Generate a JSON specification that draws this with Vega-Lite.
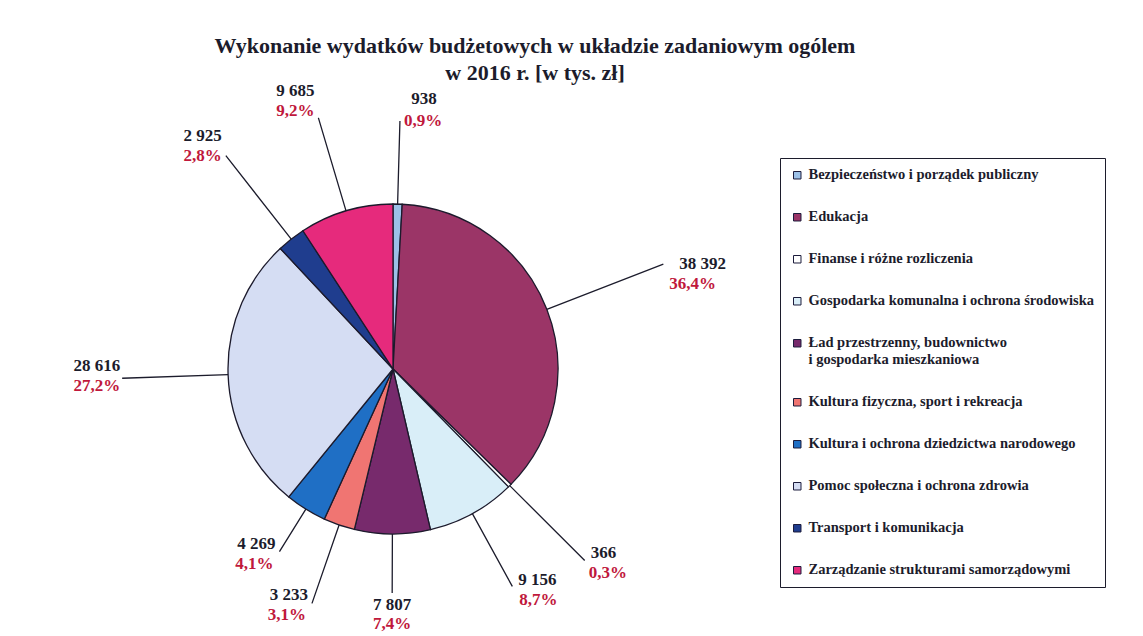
{
  "$schema": "https://vega.github.io/schema/vega-lite/v6.json",
  "autosize": {"type": "none"},
  "padding": {"left": 10, "top": 109, "right": 367, "bottom": 7},
  "width": 766,
  "height": 520,
  "background": "#ffffff",
  "title": {
    "text": "Wykonanie wydatków budżetowych w układzie zadaniowym ogólem",
    "subtitle": "w 2016 r. [w tys. zł]",
    "anchor": "middle",
    "frame": "group",
    "dx": 142,
    "offset": -16,
    "font": "Liberation Serif",
    "fontSize": 22,
    "fontWeight": "bold",
    "color": "#1c1c2c",
    "subtitleFont": "Liberation Serif",
    "subtitleFontSize": 22,
    "subtitleFontWeight": "bold",
    "subtitleColor": "#1c1c2c",
    "subtitlePadding": 5
  },
  "data": {
    "values": [
      {"lp": 1, "kategoria": "Bezpieczeństwo i porządek publiczny", "wartosc": 938, "udzial": 0.009},
      {"lp": 2, "kategoria": "Edukacja", "wartosc": 38392, "udzial": 0.364},
      {"lp": 3, "kategoria": "Finanse i różne rozliczenia", "wartosc": 366, "udzial": 0.003},
      {"lp": 4, "kategoria": "Gospodarka komunalna i ochrona środowiska", "wartosc": 9156, "udzial": 0.087},
      {"lp": 5, "kategoria": "Ład przestrzenny, budownictwo i gospodarka mieszkaniowa", "wartosc": 7807, "udzial": 0.074},
      {"lp": 6, "kategoria": "Kultura fizyczna, sport i rekreacja", "wartosc": 3233, "udzial": 0.031},
      {"lp": 7, "kategoria": "Kultura i ochrona dziedzictwa narodowego", "wartosc": 4269, "udzial": 0.041},
      {"lp": 8, "kategoria": "Pomoc społeczna i ochrona zdrowia", "wartosc": 28616, "udzial": 0.272},
      {"lp": 9, "kategoria": "Transport i komunikacja", "wartosc": 2925, "udzial": 0.028},
      {"lp": 10, "kategoria": "Zarządzanie strukturami samorządowymi", "wartosc": 9685, "udzial": 0.092}
    ]
  },
  "encoding": {
    "theta": {"field": "wartosc", "type": "quantitative", "stack": true},
    "order": {"field": "lp", "type": "quantitative"}
  },
  "layer": [
    {
      "mark": {"type": "arc", "radius": 165, "stroke": "#1c1a2c", "strokeWidth": 1.3},
      "encoding": {
        "color": {
          "field": "kategoria",
          "type": "nominal",
          "scale": {
            "domain": [
              "Bezpieczeństwo i porządek publiczny",
              "Edukacja",
              "Finanse i różne rozliczenia",
              "Gospodarka komunalna i ochrona środowiska",
              "Ład przestrzenny, budownictwo i gospodarka mieszkaniowa",
              "Kultura fizyczna, sport i rekreacja",
              "Kultura i ochrona dziedzictwa narodowego",
              "Pomoc społeczna i ochrona zdrowia",
              "Transport i komunikacja",
              "Zarządzanie strukturami samorządowymi"
            ],
            "range": ["#9cc1e8", "#9b3567", "#ffffff", "#d9eef8", "#772a6c", "#f07572", "#1f6fc5", "#d5ddf3", "#1f3d8e", "#e62a7c"]
          },
          "legend": {
            "orient": "none",
            "legendX": 770,
            "legendY": 49,
            "title": null,
            "direction": "vertical",
            "strokeColor": "#1c1c2c",
            "fillColor": "#ffffff",
            "padding": 10,
            "rowPadding": 27,
            "symbolType": "square",
            "symbolSize": 56,
            "symbolStrokeColor": "#1c1c3c",
            "symbolStrokeWidth": 1,
            "labelFont": "Liberation Serif",
            "labelFontWeight": "bold",
            "labelFontSize": 14.5,
            "labelColor": "#1c1c2c",
            "labelOffset": 4,
            "labelLimit": 400,
            "labelExpr": "indexof(datum.label, 'budownictwo') >= 0 ? ['Ład przestrzenny, budownictwo', 'i gospodarka mieszkaniowa'] : datum.label"
          }
        }
      }
    },
    {
      "mark": {"type": "arc", "radius": 248, "radius2": 165, "padAngle": 3.1416, "filled": false, "stroke": "#1c1c2c", "strokeWidth": 1.3},
      "encoding": {"opacity": {"condition": {"test": "indexof([1, 4, 6], datum.lp) >= 0", "value": 1}, "value": 0}}
    },
    {
      "mark": {"type": "arc", "radius": 290, "radius2": 165, "padAngle": 3.1416, "filled": false, "stroke": "#1c1c2c", "strokeWidth": 1.3},
      "encoding": {"opacity": {"condition": {"test": "datum.lp === 2", "value": 1}, "value": 0}}
    },
    {
      "mark": {"type": "arc", "radius": 271, "radius2": 165, "padAngle": 3.1416, "filled": false, "stroke": "#1c1c2c", "strokeWidth": 1.3},
      "encoding": {"opacity": {"condition": {"test": "indexof([3, 8, 9], datum.lp) >= 0", "value": 1}, "value": 0}}
    },
    {
      "mark": {"type": "arc", "radius": 224, "radius2": 165, "padAngle": 3.1416, "filled": false, "stroke": "#1c1c2c", "strokeWidth": 1.3},
      "encoding": {"opacity": {"condition": {"test": "datum.lp === 5", "value": 1}, "value": 0}}
    },
    {
      "mark": {"type": "arc", "radius": 215, "radius2": 165, "padAngle": 3.1416, "filled": false, "stroke": "#1c1c2c", "strokeWidth": 1.3},
      "encoding": {"opacity": {"condition": {"test": "datum.lp === 7", "value": 1}, "value": 0}}
    },
    {
      "mark": {"type": "arc", "radius": 262, "radius2": 165, "padAngle": 3.1416, "filled": false, "stroke": "#1c1c2c", "strokeWidth": 1.3},
      "encoding": {"opacity": {"condition": {"test": "datum.lp === 10", "value": 1}, "value": 0}}
    },

    {"mark": {"type": "text", "radius": 248, "align": "center", "dx": 24, "dy": -22, "baseline": "middle", "font": "Liberation Serif", "fontWeight": "bold", "fontSize": 17, "fill": "#1c1c2c"},
     "encoding": {"text": {"condition": {"test": "datum.lp === 1", "field": "wartosc", "type": "quantitative", "format": ",d"}, "value": ""}}},
    {"mark": {"type": "text", "radius": 248, "align": "left", "dx": 4, "dy": 0, "baseline": "middle", "font": "Liberation Serif", "fontWeight": "bold", "fontSize": 17, "fill": "#c0183c"},
     "encoding": {"text": {"condition": {"test": "datum.lp === 1", "field": "udzial", "type": "quantitative", "format": ".1%"}, "value": ""}}},

    {"mark": {"type": "text", "radius": 290, "align": "left", "dx": 16, "dy": 0, "baseline": "middle", "font": "Liberation Serif", "fontWeight": "bold", "fontSize": 17, "fill": "#1c1c2c"},
     "encoding": {"text": {"condition": {"test": "datum.lp === 2", "field": "wartosc", "type": "quantitative", "format": ",d"}, "value": ""}}},
    {"mark": {"type": "text", "radius": 290, "align": "left", "dx": 6, "dy": 20, "baseline": "middle", "font": "Liberation Serif", "fontWeight": "bold", "fontSize": 17, "fill": "#c0183c"},
     "encoding": {"text": {"condition": {"test": "datum.lp === 2", "field": "udzial", "type": "quantitative", "format": ".1%"}, "value": ""}}},

    {"mark": {"type": "text", "radius": 271, "align": "left", "dx": 6, "dy": -8, "baseline": "middle", "font": "Liberation Serif", "fontWeight": "bold", "fontSize": 17, "fill": "#1c1c2c"},
     "encoding": {"text": {"condition": {"test": "datum.lp === 3", "field": "wartosc", "type": "quantitative", "format": ",d"}, "value": ""}}},
    {"mark": {"type": "text", "radius": 271, "align": "left", "dx": 4, "dy": 12, "baseline": "middle", "font": "Liberation Serif", "fontWeight": "bold", "fontSize": 17, "fill": "#c0183c"},
     "encoding": {"text": {"condition": {"test": "datum.lp === 3", "field": "udzial", "type": "quantitative", "format": ".1%"}, "value": ""}}},

    {"mark": {"type": "text", "radius": 248, "align": "left", "dx": 6, "dy": -6, "baseline": "middle", "font": "Liberation Serif", "fontWeight": "bold", "fontSize": 17, "fill": "#1c1c2c"},
     "encoding": {"text": {"condition": {"test": "datum.lp === 4", "field": "wartosc", "type": "quantitative", "format": ",d"}, "value": ""}}},
    {"mark": {"type": "text", "radius": 248, "align": "left", "dx": 7, "dy": 14, "baseline": "middle", "font": "Liberation Serif", "fontWeight": "bold", "fontSize": 17, "fill": "#c0183c"},
     "encoding": {"text": {"condition": {"test": "datum.lp === 4", "field": "udzial", "type": "quantitative", "format": ".1%"}, "value": ""}}},

    {"mark": {"type": "text", "radius": 224, "align": "center", "dx": 0, "dy": 12, "baseline": "middle", "font": "Liberation Serif", "fontWeight": "bold", "fontSize": 17, "fill": "#1c1c2c"},
     "encoding": {"text": {"condition": {"test": "datum.lp === 5", "field": "wartosc", "type": "quantitative", "format": ",d"}, "value": ""}}},
    {"mark": {"type": "text", "radius": 224, "align": "center", "dx": 0, "dy": 31, "baseline": "middle", "font": "Liberation Serif", "fontWeight": "bold", "fontSize": 17, "fill": "#c0183c"},
     "encoding": {"text": {"condition": {"test": "datum.lp === 5", "field": "udzial", "type": "quantitative", "format": ".1%"}, "value": ""}}},

    {"mark": {"type": "text", "radius": 248, "align": "right", "dx": -4, "dy": -8, "baseline": "middle", "font": "Liberation Serif", "fontWeight": "bold", "fontSize": 17, "fill": "#1c1c2c"},
     "encoding": {"text": {"condition": {"test": "datum.lp === 6", "field": "wartosc", "type": "quantitative", "format": ",d"}, "value": ""}}},
    {"mark": {"type": "text", "radius": 248, "align": "right", "dx": -6, "dy": 12, "baseline": "middle", "font": "Liberation Serif", "fontWeight": "bold", "fontSize": 17, "fill": "#c0183c"},
     "encoding": {"text": {"condition": {"test": "datum.lp === 6", "field": "udzial", "type": "quantitative", "format": ".1%"}, "value": ""}}},

    {"mark": {"type": "text", "radius": 215, "align": "right", "dx": -4, "dy": -8, "baseline": "middle", "font": "Liberation Serif", "fontWeight": "bold", "fontSize": 17, "fill": "#1c1c2c"},
     "encoding": {"text": {"condition": {"test": "datum.lp === 7", "field": "wartosc", "type": "quantitative", "format": ",d"}, "value": ""}}},
    {"mark": {"type": "text", "radius": 215, "align": "right", "dx": -6, "dy": 12, "baseline": "middle", "font": "Liberation Serif", "fontWeight": "bold", "fontSize": 17, "fill": "#c0183c"},
     "encoding": {"text": {"condition": {"test": "datum.lp === 7", "field": "udzial", "type": "quantitative", "format": ".1%"}, "value": ""}}},

    {"mark": {"type": "text", "radius": 271, "align": "right", "dx": -2, "dy": -12, "baseline": "middle", "font": "Liberation Serif", "fontWeight": "bold", "fontSize": 17, "fill": "#1c1c2c"},
     "encoding": {"text": {"condition": {"test": "datum.lp === 8", "field": "wartosc", "type": "quantitative", "format": ",d"}, "value": ""}}},
    {"mark": {"type": "text", "radius": 271, "align": "right", "dx": -2, "dy": 8, "baseline": "middle", "font": "Liberation Serif", "fontWeight": "bold", "fontSize": 17, "fill": "#c0183c"},
     "encoding": {"text": {"condition": {"test": "datum.lp === 8", "field": "udzial", "type": "quantitative", "format": ".1%"}, "value": ""}}},

    {"mark": {"type": "text", "radius": 271, "align": "right", "dx": -4, "dy": -20, "baseline": "middle", "font": "Liberation Serif", "fontWeight": "bold", "fontSize": 17, "fill": "#1c1c2c"},
     "encoding": {"text": {"condition": {"test": "datum.lp === 9", "field": "wartosc", "type": "quantitative", "format": ",d"}, "value": ""}}},
    {"mark": {"type": "text", "radius": 271, "align": "right", "dx": -4, "dy": 0, "baseline": "middle", "font": "Liberation Serif", "fontWeight": "bold", "fontSize": 17, "fill": "#c0183c"},
     "encoding": {"text": {"condition": {"test": "datum.lp === 9", "field": "udzial", "type": "quantitative", "format": ".1%"}, "value": ""}}},

    {"mark": {"type": "text", "radius": 262, "align": "right", "dx": -4, "dy": -27, "baseline": "middle", "font": "Liberation Serif", "fontWeight": "bold", "fontSize": 17, "fill": "#1c1c2c"},
     "encoding": {"text": {"condition": {"test": "datum.lp === 10", "field": "wartosc", "type": "quantitative", "format": ",d"}, "value": ""}}},
    {"mark": {"type": "text", "radius": 262, "align": "right", "dx": -4, "dy": -7, "baseline": "middle", "font": "Liberation Serif", "fontWeight": "bold", "fontSize": 17, "fill": "#c0183c"},
     "encoding": {"text": {"condition": {"test": "datum.lp === 10", "field": "udzial", "type": "quantitative", "format": ".1%"}, "value": ""}}}
  ],
  "config": {
    "view": {"stroke": null},
    "locale": {"number": {"decimal": ",", "thousands": " ", "grouping": [3], "currency": ["", " zł"]}}
  }
}
